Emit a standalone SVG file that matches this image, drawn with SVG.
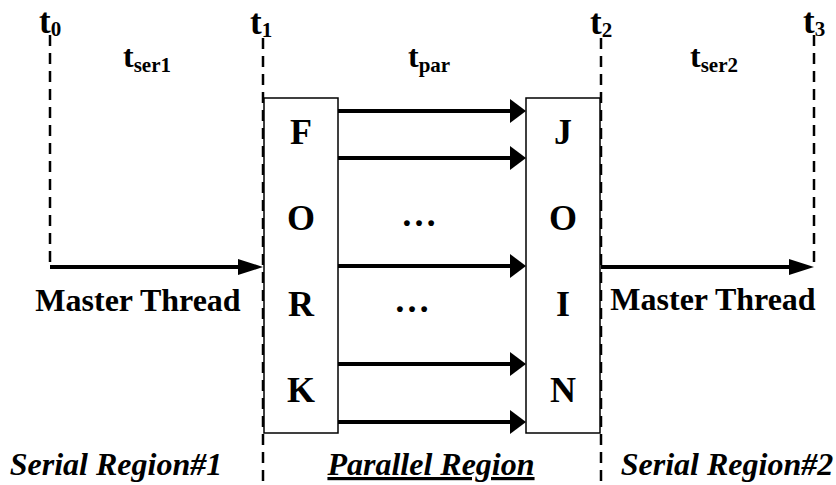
<svg xmlns="http://www.w3.org/2000/svg" width="836" height="485" viewBox="0 0 836 485">
<style>
text{font-family:"Liberation Serif","Times New Roman",serif;font-weight:bold;fill:#000}
.t{font-size:35px}
.ts{font-size:32px}
.sub{font-size:21px}
.big{font-size:36px}
.mt{font-size:32px}
.reg{font-size:32px;font-style:italic}
.dash{stroke:#000;stroke-width:2.5;stroke-dasharray:11 7;fill:none}
.box{fill:#fff;stroke:#000;stroke-width:1.5}
.par{stroke:#000;stroke-width:4;fill:none;marker-end:url(#ah)}
.mst{stroke:#000;stroke-width:4;fill:none;marker-end:url(#ahm)}
</style>
<defs>
<marker id="ah" markerUnits="userSpaceOnUse" markerWidth="16" markerHeight="24" refX="6" refY="12" orient="auto"><path d="M0,0 L16,12 L0,24 z" fill="#000"/></marker>
<marker id="ahm" markerUnits="userSpaceOnUse" markerWidth="25" markerHeight="16" refX="13" refY="8" orient="auto"><path d="M0,0 L25,8 L0,16 z" fill="#000"/></marker>
</defs>
<rect width="836" height="485" fill="#fff"/>
<g id="timelines">
<line class="dash" x1="50" y1="35" x2="50" y2="267"/>
<line class="dash" x1="263" y1="38" x2="263" y2="485"/>
<line class="dash" x1="601" y1="38" x2="601" y2="485"/>
<line class="dash" x1="814" y1="35" x2="814" y2="267"/>
</g>
<g id="time-labels">
<text class="t" x="39" y="33">t<tspan class="sub" dy="3">0</tspan></text>
<text class="t" x="250" y="34">t<tspan class="sub" dy="3">1</tspan></text>
<text class="t" x="590" y="34">t<tspan class="sub" dy="3">2</tspan></text>
<text class="t" x="803" y="33">t<tspan class="sub" dy="3">3</tspan></text>
<text class="ts" x="123" y="67">t<tspan class="sub" dy="5">ser1</tspan></text>
<text class="ts" x="408" y="67">t<tspan class="sub" dy="5">par</tspan></text>
<text class="ts" x="690" y="67">t<tspan class="sub" dy="5">ser2</tspan></text>
</g>
<g id="fork">
<rect class="box" x="264" y="98" width="74" height="335"/>
<text class="big" x="301" y="144" text-anchor="middle">F</text>
<text class="big" x="301" y="230" text-anchor="middle">O</text>
<text class="big" x="301" y="316" text-anchor="middle">R</text>
<text class="big" x="301" y="402" text-anchor="middle">K</text>
</g>
<g id="join">
<rect class="box" x="526" y="98" width="74" height="335"/>
<text class="big" x="563" y="144" text-anchor="middle">J</text>
<text class="big" x="563" y="230" text-anchor="middle">O</text>
<text class="big" x="563" y="316" text-anchor="middle">I</text>
<text class="big" x="563" y="402" text-anchor="middle">N</text>
</g>
<g id="connectors">
<line class="par" x1="338" y1="111" x2="516" y2="111"/>
<line class="par" x1="338" y1="158" x2="516" y2="158"/>
<line class="par" x1="338" y1="266" x2="516" y2="266"/>
<line class="par" x1="338" y1="364" x2="516" y2="364"/>
<line class="par" x1="338" y1="422" x2="516" y2="422"/>
<line class="mst" x1="50" y1="267" x2="251" y2="267"/>
<line class="mst" x1="601" y1="267" x2="802" y2="267"/>
</g>
<g id="ellipses">
<text class="big" x="419" y="226" font-size="44" text-anchor="middle">…</text>
<text class="big" x="412" y="312" font-size="44" text-anchor="middle">…</text>
</g>
<g id="master-labels">
<text class="mt" x="138" y="311" text-anchor="middle">Master Thread</text>
<text class="mt" x="713" y="310" text-anchor="middle">Master Thread</text>
</g>
<g id="region-labels">
<text class="reg" x="116" y="475" text-anchor="middle">Serial Region#1</text>
<text class="reg" x="431" y="475" text-anchor="middle" text-decoration="underline">Parallel Region</text>
<text class="reg" x="727" y="475" text-anchor="middle">Serial Region#2</text>
</g>
</svg>
